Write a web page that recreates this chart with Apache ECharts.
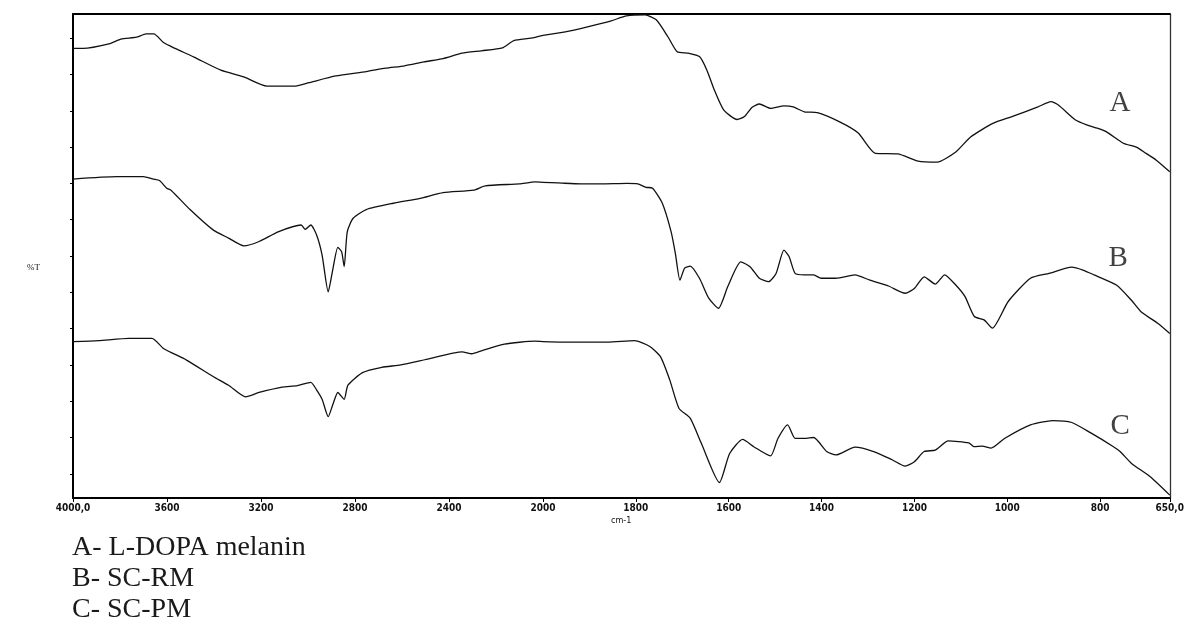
<!DOCTYPE html>
<html>
<head>
<meta charset="utf-8">
<script src="https://cdn.jsdelivr.net/npm/echarts@6/dist/echarts.min.js"></script>
<style>
  html, body { margin: 0; padding: 0; background: #ffffff; }
  #chart { width: 1187px; height: 643px; }
</style>
</head>
<body>
<div id="chart"></div>
<script>
// FT-IR spectra, %T against wavenumber (cm-1); the x scale doubles below 2000 cm-1.
const BREAK = 2000;

// A - L-DOPA melanin
const wnA = [4000,3957,3843,3796,3730,3689,3656,3615,3566,3485,3371,3273,3175,3053,2996,2882,2752,2670,2589,2507,2425,2344,2262,2173,2124,2051,2000,1952,1902,1853,1820,1780,1756,1731,1711,1687,1663,1647,1631,1611,1582,1566,1550,1534,1510,1481,1461,1437,1409,1361,1321,1284,1236,1192,1151,1111,1079,1031,990,934,906,890,853,829,806,787,750,722,701,679,650];
const tA = [92.9,92.9,93.9,94.8,95.2,95.9,95.9,94.1,92.9,91.1,88.4,87.0,85.1,85.1,85.8,87.2,88.1,88.8,89.3,90.1,90.8,91.9,92.4,93.0,94.5,95.0,95.6,96.3,97.4,98.6,99.6,99.8,98.8,95.3,92.2,91.9,91.2,88.4,84.3,80.2,78.2,78.8,80.7,81.4,80.5,81.0,80.8,79.8,79.6,77.7,75.4,71.2,71.1,69.6,69.4,71.5,74.6,77.4,78.8,80.8,81.9,81.2,78.1,77.1,76.4,75.7,73.3,72.5,71.2,69.8,67.4];

// B - SC-RM
const wnB = [4000,3814,3701,3658,3632,3601,3583,3502,3404,3338,3273,3208,3127,3029,3012,2988,2963,2940,2914,2895,2873,2857,2846,2833,2808,2752,2637,2523,2425,2295,2246,2100,2034,2000,1968,1918,1876,1819,1796,1778,1764,1743,1724,1715,1705,1695,1683,1663,1643,1622,1602,1574,1554,1534,1514,1498,1481,1470,1457,1437,1417,1401,1369,1328,1296,1256,1220,1200,1179,1155,1135,1111,1091,1071,1050,1032,998,950,910,861,837,813,765,733,712,676,650];
const tB = [65.9,66.4,66.4,65.9,65.6,64.0,63.6,59.6,55.4,53.7,52.1,53.0,55.0,56.4,55.5,56.4,54.3,50.2,42.6,47.1,51.8,50.9,47.8,55.0,57.8,59.6,60.9,61.9,63.1,63.6,64.5,64.9,65.3,65.2,65.1,64.9,64.9,65.0,64.9,64.2,64.0,60.9,55.0,50.6,45.0,47.5,47.9,45.4,41.3,39.2,43.7,48.8,47.8,45.4,44.7,46.4,51.2,49.9,46.4,46.1,46.1,45.4,45.4,46.1,45.0,43.8,42.3,43.3,45.7,44.2,46.1,44.0,41.6,37.5,36.8,35.1,40.6,45.4,46.4,47.7,47.1,46.1,44.0,40.9,38.5,36.1,34.0];

// C - SC-PM
const wnC = [4000,3892,3762,3664,3615,3517,3404,3338,3265,3208,3110,3045,2988,2963,2940,2914,2895,2873,2846,2830,2768,2686,2605,2491,2344,2303,2262,2164,2034,2000,1960,1861,1803,1770,1747,1727,1707,1683,1659,1620,1598,1570,1546,1510,1494,1473,1457,1437,1417,1389,1369,1328,1288,1248,1220,1200,1179,1155,1127,1083,1071,1054,1035,1006,950,902,861,821,773,757,733,692,650];
const tC = [32.3,32.5,33.0,33.0,30.9,28.5,25.1,23.3,20.9,21.8,22.9,23.2,23.9,22.3,20.4,16.8,19.2,21.8,20.4,23.3,25.9,27.0,27.5,28.7,30.2,29.8,30.4,31.8,32.4,32.3,32.2,32.2,32.5,31.3,29.2,24.4,18.5,16.5,11.3,3.2,9.2,12.1,10.6,8.7,12.3,15.1,12.3,12.3,12.5,9.6,8.9,10.5,9.6,7.9,6.6,7.5,9.6,9.9,11.8,11.4,10.6,10.7,10.3,12.3,15.1,16.0,15.6,13.5,10.7,9.6,7.2,4.4,0.6];

// Trace letters placed beside each spectrum
const labelNames = ['A', 'B', 'C'];
const labelWn = [757, 761, 757];
const labelT = [81.6, 49.6, 14.7];

// Axis ticks
const xTicksHigh = [4000, 3600, 3200, 2800, 2400, 2000];
const xTicksLow = [1800, 1600, 1400, 1200, 1000, 800, 650];
const yTicks = [5, 12.5, 20, 27.5, 35, 42.5, 50, 57.5, 65, 72.5, 80, 87.5, 95];

const legendLines = ['A- L-DOPA melanin', 'B- SC-RM', 'C- SC-PM'];

const traces = [[wnA, tA], [wnB, tB], [wnC, tC]];

function pairs(wn, t, high) {
  const out = [];
  for (let i = 0; i < wn.length; i++) {
    if (high ? wn[i] >= BREAK : wn[i] <= BREAK) out.push([wn[i], t[i]]);
  }
  return out;
}

const tickFont = { fontFamily: 'Liberation Sans Narrow, DejaVu Sans Condensed, Arial, sans-serif', fontSize: 10, fontWeight: 'bold', color: '#111' };
const fmtTick = v => (v === 4000 || v === 650) ? v + ',0' : String(v);

function bottomAxis(grid, min, max, ticks) {
  return {
    type: 'value', gridIndex: grid, min: min, max: max, inverse: true, position: 'bottom',
    axisLine: { show: true, onZero: false, lineStyle: { color: '#000', width: 2 } },
    axisTick: { show: true, customValues: ticks, length: 4, lineStyle: { color: '#000', width: 1 } },
    axisLabel: Object.assign({ show: true, customValues: ticks, margin: 5, formatter: fmtTick }, tickFont),
    splitLine: { show: false }
  };
}
function topAxis(grid, min, max) {
  return {
    type: 'value', gridIndex: grid, min: min, max: max, inverse: true, position: 'top',
    axisLine: { show: true, onZero: false, lineStyle: { color: '#000', width: 2 } },
    axisTick: { show: false }, axisLabel: { show: false }, splitLine: { show: false }
  };
}

const series = [];
traces.forEach(([wn, t]) => {
  [true, false].forEach(high => {
    series.push({
      type: 'line',
      xAxisIndex: high ? 0 : 1,
      yAxisIndex: high ? 0 : 1,
      data: pairs(wn, t, high),
      showSymbol: false,
      smooth: 0.2,
      lineStyle: { color: '#111', width: 1.3 },
      silent: true
    });
  });
});
series.push({
  type: 'scatter',
  xAxisIndex: 1,
  yAxisIndex: 1,
  symbolSize: 0,
  data: labelNames.map((n, i) => ({ name: n, value: [labelWn[i], labelT[i]] })),
  label: {
    show: true, position: 'inside', formatter: p => p.name,
    fontFamily: 'Liberation Serif, Times New Roman, serif', fontSize: 29, color: '#111'
  },
  silent: true
});

const chart = echarts.init(document.getElementById('chart'), null, { renderer: 'canvas' });
chart.setOption({
  animation: false,
  backgroundColor: '#ffffff',
  grid: [
    { left: 73, top: 14, width: 470, height: 484 },
    { left: 543, top: 14, width: 627, height: 484 }
  ],
  xAxis: [
    bottomAxis(0, BREAK, 4000, xTicksHigh),
    bottomAxis(1, 650, BREAK, xTicksLow),
    topAxis(0, BREAK, 4000),
    topAxis(1, 650, BREAK)
  ],
  yAxis: [
    {
      type: 'value', gridIndex: 0, min: 0, max: 100, position: 'left',
      axisLine: { show: true, onZero: false, lineStyle: { color: '#000', width: 2 } },
      axisTick: { show: true, customValues: yTicks, length: 3, lineStyle: { color: '#000', width: 1 } },
      axisLabel: { show: false }, splitLine: { show: false }
    },
    {
      type: 'value', gridIndex: 1, min: 0, max: 100, position: 'right',
      axisLine: { show: true, onZero: false, lineStyle: { color: '#333', width: 1.3 } },
      axisTick: { show: false }, axisLabel: { show: false }, splitLine: { show: false }
    }
  ],
  graphic: [
    { type: 'text', left: 27, top: 263, style: { text: '%T', font: '9px "Liberation Serif", serif', fill: '#111' } },
    { type: 'text', left: 611, top: 516, style: { text: 'cm-1', font: '9px "Liberation Sans Narrow", "DejaVu Sans Condensed", sans-serif', fill: '#111' } },
    { type: 'text', left: 72, top: 534, style: { text: legendLines[0], font: '28px "Liberation Serif", serif', fill: '#1a1a1a' } },
    { type: 'text', left: 72, top: 565, style: { text: legendLines[1], font: '28px "Liberation Serif", serif', fill: '#1a1a1a' } },
    { type: 'text', left: 72, top: 596, style: { text: legendLines[2], font: '28px "Liberation Serif", serif', fill: '#1a1a1a' } }
  ],
  series: series
});
</script>
</body>
</html>
